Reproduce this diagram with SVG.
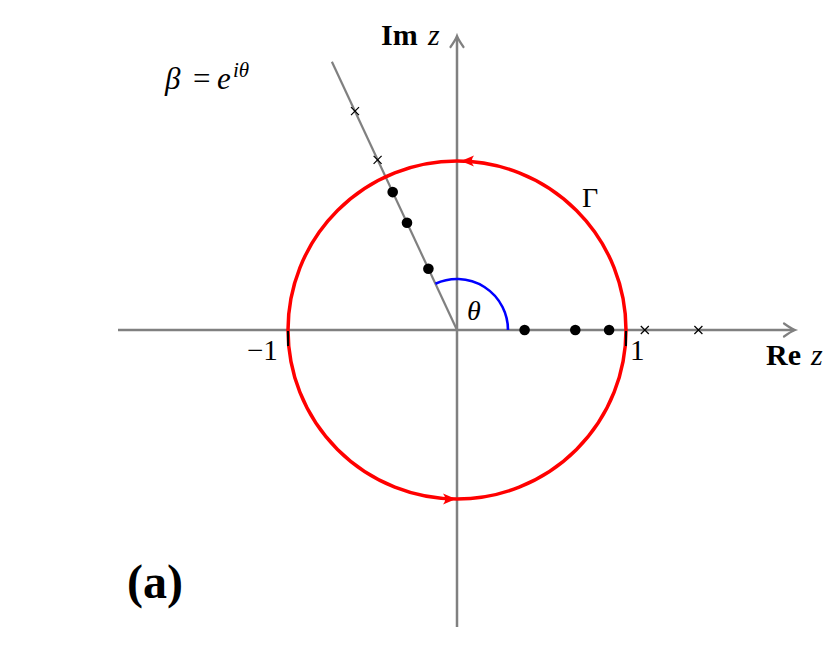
<svg xmlns="http://www.w3.org/2000/svg" width="831" height="662" viewBox="0 0 831 662">
<style>
.axis{stroke:#808080;stroke-width:2.5;fill:none}
.ahead{stroke:#808080;stroke-width:2.2;fill:none;stroke-linecap:round}
.ray{stroke:#808080;stroke-width:2.2;fill:none}
.circ{stroke:#ff0000;stroke-width:3.5;fill:none}
.rh{fill:#ff0000;stroke:none}
.dot{fill:#000}
.x{stroke:#000;stroke-width:1.2;fill:none}
.tick{stroke:#000;stroke-width:2}
.t{font-family:"Liberation Serif","DejaVu Serif",serif;fill:#000}
.i{font-style:italic}
.b{font-weight:bold}
</style>
<rect width="831" height="662" fill="#fff"/>
<g id="axes">
<line class="axis" x1="118" y1="330" x2="794" y2="330"/>
<path class="ahead" d="M784,323.5 Q791,328.5 795,330 Q791,331.5 784,336.5"/>
<line class="axis" x1="457" y1="627" x2="457" y2="38"/>
<path class="ahead" d="M450.5,47 Q455.5,40 457,36 Q458.5,40 463.5,47"/>
</g>
<g id="connectors">
<line class="ray" x1="457" y1="330" x2="331.9" y2="61.7"/>
<path d="M508,330 A51,51 0 0 0 435.45,283.78" stroke="#0000ff" stroke-width="2.6" fill="none"/>
<circle class="circ" cx="457" cy="330" r="169"/>
<path class="rh" d="M461,161 L474,155.5 Q469.5,161 474,166.5 Z"/>
<path class="rh" d="M456,499 L443,493.5 Q447.5,499 443,504.5 Z"/>
<line class="tick" x1="288" y1="331" x2="288" y2="346"/>
<line class="tick" x1="626" y1="331" x2="626" y2="346"/>
</g>
<g id="points">
<circle class="dot" cx="428.4" cy="268.7" r="5.3"/>
<circle class="dot" cx="407.0" cy="222.8" r="5.3"/>
<circle class="dot" cx="392.7" cy="192.1" r="5.3"/>
<circle class="dot" cx="524.6" cy="330" r="5.3"/>
<circle class="dot" cx="575.3" cy="330" r="5.3"/>
<circle class="dot" cx="609.1" cy="330" r="5.3"/>
<path class="x" d="M373.6,155.8 l8,8 m0,-8 l-8,8"/>
<path class="x" d="M351,107.2 l8,8 m0,-8 l-8,8"/>
<path class="x" d="M640.8,326 l8,8 m0,-8 l-8,8"/>
<path class="x" d="M694.4,326 l8,8 m0,-8 l-8,8"/>
</g>
<g id="labels">
<text class="t" y="45" font-size="30"><tspan class="b" x="381">Im</tspan><tspan class="i" x="428">z</tspan></text>
<text class="t" y="365" font-size="30"><tspan class="b" x="766">Re</tspan><tspan class="i" x="811">z</tspan></text>
<text class="t" y="89" font-size="31"><tspan class="i" x="165">β</tspan><tspan x="193">=</tspan><tspan class="i" x="217">e</tspan><tspan class="i" font-size="21" x="233" y="77">iθ</tspan></text>
<text class="t" x="247" y="360" font-size="29">−1</text>
<text class="t" x="630" y="360" font-size="29">1</text>
<text class="t" x="582" y="207" font-size="28">Γ</text>
<text class="t i" x="467" y="320" font-size="28">θ</text>
<text class="t b" x="127" y="598" font-size="48">(a)</text>
</g>
</svg>
